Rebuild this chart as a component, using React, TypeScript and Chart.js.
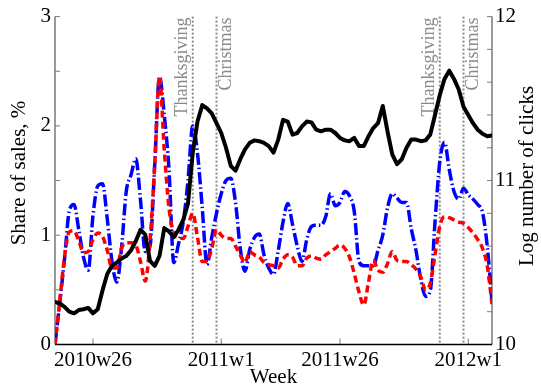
import React, { useEffect, useRef } from "react";
import { Chart, registerables } from "chart.js";

Chart.register(...registerables);

// Weekly observations, 2010w18 .. 2012w6 (index 0 .. 92)
const logClicks = [
  10.26, 10.25, 10.23, 10.2, 10.19, 10.21, 10.215, 10.223, 10.19, 10.215,
  10.33, 10.43, 10.48, 10.5, 10.525, 10.54, 10.575, 10.63, 10.7, 10.67,
  10.51, 10.48, 10.54, 10.71, 10.69, 10.655, 10.7, 10.76, 10.86, 11.17,
  11.36, 11.46, 11.44, 11.41, 11.35, 11.29, 11.2, 11.09, 11.06, 11.13,
  11.19, 11.23, 11.245, 11.24, 11.23, 11.21, 11.17, 11.25, 11.37, 11.36,
  11.28, 11.29, 11.33, 11.36, 11.355, 11.31, 11.3, 11.31, 11.31, 11.29,
  11.26, 11.245, 11.24, 11.26, 11.21, 11.21, 11.27, 11.32, 11.35, 11.455,
  11.3, 11.16, 11.1, 11.13, 11.2, 11.25, 11.25, 11.24, 11.245, 11.28,
  11.4, 11.52, 11.62, 11.67, 11.62, 11.555, 11.45, 11.4, 11.35, 11.31,
  11.285, 11.27, 11.275,
];

const shareRed = [
  0.0, 0.4, 0.8, 1.03, 1.04, 0.95, 0.84, 0.85, 0.96, 1.02,
  0.99, 0.86, 0.7, 0.7, 0.88, 0.93, 0.93, 0.91, 0.76, 0.58,
  0.95, 1.65, 2.45, 1.78, 1.25, 1.02, 0.98, 0.97, 1.08, 1.2,
  0.98, 0.76, 0.76, 0.88, 1.05, 1.0, 0.97, 0.97, 0.9, 0.82,
  0.75, 0.85, 0.82, 0.8, 0.75, 0.73, 0.72, 0.7, 0.78, 0.82,
  0.8, 0.72, 0.72, 0.79, 0.81, 0.79, 0.78, 0.82, 0.85, 0.88,
  0.91, 0.88, 0.8, 0.65, 0.48, 0.36, 0.57, 0.77, 0.68, 0.66,
  0.74, 0.85, 0.77, 0.76, 0.76, 0.73, 0.69, 0.62, 0.5, 0.56,
  0.82, 1.08, 1.17, 1.16, 1.14, 1.12, 1.11, 1.07, 1.02, 0.96,
  0.88, 0.72, 0.37,
];

const shareBlue = [
  0.0, 0.38, 0.78, 1.22, 1.28, 1.05, 0.8, 0.68, 1.18, 1.45,
  1.47, 1.15, 0.76, 0.57, 0.88, 1.4, 1.55, 1.7, 1.32, 0.85,
  0.9, 1.65, 2.45, 2.1, 1.6, 0.75, 0.92, 1.12, 1.5, 2.0,
  1.75, 1.25, 0.73, 0.98, 1.2, 1.38, 1.5, 1.52, 1.3, 0.88,
  0.67, 0.87, 0.98, 1.01, 0.82, 0.7, 0.64, 0.86, 1.12, 1.29,
  1.1, 0.9, 0.76, 0.96, 1.08, 1.09, 1.09, 1.17, 1.38, 1.27,
  1.3, 1.4, 1.36, 1.22, 0.76, 0.72, 0.72, 0.72, 0.86, 1.0,
  1.25, 1.38, 1.34, 1.3, 1.3, 1.06, 0.86, 0.6, 0.44, 0.49,
  1.12, 1.67, 1.85, 1.6, 1.4, 1.33, 1.43, 1.37, 1.33, 1.28,
  1.21, 0.9, 0.4,
];

const tickWeeks = [8, 35, 60, 87];
const tickLabels = ["2010w26", "2011w1", "2011w26", "2012w1"];

const eventWeeks = [29, 34, 81, 86];
const eventLabels = ["Thanksgiving", "Christmas", "Thanksgiving", "Christmas"];
const eventSide = ["left", "right", "left", "right"];

const SERIF = '"Liberation Serif", "Times New Roman", serif';

const toPoints = (vals: number[]) => vals.map((v, i) => ({ x: i, y: v }));

const decorations = {
  id: "decorations",
  beforeDatasetsDraw(chart: any) {
    const { ctx, chartArea: a, scales } = chart;
    const xs = scales.x;
    ctx.save();

    // holiday markers
    ctx.strokeStyle = "#8a8a8a";
    ctx.lineWidth = 2;
    ctx.setLineDash([2, 2]);
    eventWeeks.forEach((w) => {
      const px = xs.getPixelForValue(w);
      ctx.beginPath();
      ctx.moveTo(px, a.top);
      ctx.lineTo(px, a.bottom);
      ctx.stroke();
    });
    ctx.setLineDash([]);

    ctx.fillStyle = "#8a8a8a";
    ctx.font = `18px ${SERIF}`;
    eventWeeks.forEach((w, i) => {
      const px = xs.getPixelForValue(w);
      ctx.save();
      if (eventSide[i] === "left") {
        ctx.translate(px - 1, a.top + 1);
        ctx.textBaseline = "bottom";
      } else {
        ctx.translate(px + 1, a.top + 1);
        ctx.textBaseline = "top";
      }
      ctx.rotate(-Math.PI / 2);
      ctx.textAlign = "right";
      ctx.fillText(eventLabels[i], 0, 0);
      ctx.restore();
    });

    // axis lines
    ctx.lineWidth = 1.5;
    ctx.strokeStyle = "#7a7a7a";
    ctx.beginPath();
    ctx.moveTo(a.left, a.top);
    ctx.lineTo(a.left, a.bottom);
    ctx.moveTo(a.right, a.top);
    ctx.lineTo(a.right, a.bottom);
    ctx.stroke();

    // inward tick marks
    ctx.lineWidth = 1;
    ctx.beginPath();
    for (let v = 0; v <= 3.001; v += 0.5) {
      const py = scales.y.getPixelForValue(v);
      ctx.moveTo(a.left, py);
      ctx.lineTo(a.left + 5, py);
    }
    for (let v = 10; v <= 12.001; v += 0.2) {
      const py = scales.y2.getPixelForValue(v);
      ctx.moveTo(a.right, py);
      ctx.lineTo(a.right - 5, py);
    }
    tickWeeks.forEach((w) => {
      const px = xs.getPixelForValue(w);
      ctx.moveTo(px, a.bottom);
      ctx.lineTo(px, a.bottom - 6);
    });
    ctx.stroke();

    ctx.strokeStyle = "#000";
    ctx.lineWidth = 1.5;
    ctx.beginPath();
    ctx.moveTo(a.left, a.bottom);
    ctx.lineTo(a.right, a.bottom);
    ctx.stroke();
    ctx.restore();
  },
  afterDraw(chart: any) {
    const { ctx, chartArea: a } = chart;
    ctx.save();
    ctx.fillStyle = "#000";
    ctx.font = `21px ${SERIF}`;
    ctx.textAlign = "center";
    ctx.textBaseline = "middle";
    ctx.fillText("Week", (a.left + a.right) / 2, 377);

    ctx.save();
    ctx.translate(19, 173);
    ctx.rotate(-Math.PI / 2);
    ctx.fillText("Share of sales, %", 0, 0);
    ctx.restore();

    ctx.save();
    ctx.translate(527, 176);
    ctx.rotate(-Math.PI / 2);
    ctx.fillText("Log number of clicks", 0, 0);
    ctx.restore();
    ctx.restore();
  },
};

export default function App() {
  const ref = useRef<HTMLCanvasElement | null>(null);

  useEffect(() => {
    if (!ref.current) return;
    const chart = new Chart(ref.current, {
      type: "line",
      data: {
        datasets: [
          {
            label: "Log number of clicks",
            data: toPoints(logClicks),
            yAxisID: "y2",
            borderColor: "#000",
            borderWidth: 4,
            pointRadius: 0,
            tension: 0,
            borderJoinStyle: "round",
            borderCapStyle: "round",
          },
          {
            label: "Share A",
            data: toPoints(shareRed),
            yAxisID: "y",
            borderColor: "#ff0000",
            borderWidth: 3.5,
            borderDash: [7, 4],
            pointRadius: 0,
            cubicInterpolationMode: "monotone",
          },
          {
            label: "Share B",
            data: toPoints(shareBlue),
            yAxisID: "y",
            borderColor: "#0000ff",
            borderWidth: 3.5,
            borderDash: [12, 3, 1.5, 3],
            pointRadius: 0,
            cubicInterpolationMode: "monotone",
          },
        ],
      },
      options: {
        animation: false,
        responsive: false,
        events: [],
        layout: { padding: { top: 12, left: 0, right: 0, bottom: 0 } },
        plugins: { legend: { display: false }, tooltip: { enabled: false } },
        scales: {
          x: {
            type: "linear",
            min: 0,
            max: 92,
            grid: { display: false, drawTicks: false },
            border: { display: false },
            afterBuildTicks: (s: any) => {
              s.ticks = tickWeeks.map((v) => ({ value: v }));
            },
            afterFit: (s: any) => {
              s.height = 42.5;
            },
            ticks: {
              autoSkip: false,
              maxRotation: 0,
              padding: 3,
              color: "#000",
              font: { family: SERIF, size: 21 },
              callback: (v: any) => {
                const k = tickWeeks.indexOf(Number(v));
                return k >= 0 ? tickLabels[k] : "";
              },
            },
          },
          y: {
            position: "left",
            min: 0,
            max: 3,
            grid: { display: false, drawTicks: false },
            border: { display: false },
            afterFit: (s: any) => {
              s.width = 55;
            },
            ticks: {
              stepSize: 1,
              padding: 4,
              color: "#000",
              font: { family: SERIF, size: 21 },
            },
          },
          y2: {
            position: "right",
            min: 10,
            max: 12,
            grid: { display: false, drawTicks: false },
            border: { display: false },
            afterFit: (s: any) => {
              s.width = 49;
            },
            ticks: {
              stepSize: 1,
              padding: 3,
              color: "#000",
              font: { family: SERIF, size: 21 },
            },
          },
        },
      },
      plugins: [decorations],
    });
    return () => chart.destroy();
  }, []);

  return (
    <div
      style={{
        position: "fixed",
        left: 0,
        top: 0,
        width: 541,
        height: 387,
        background: "#fff",
      }}
    >
      <canvas ref={ref} width={541} height={387} />
    </div>
  );
}
